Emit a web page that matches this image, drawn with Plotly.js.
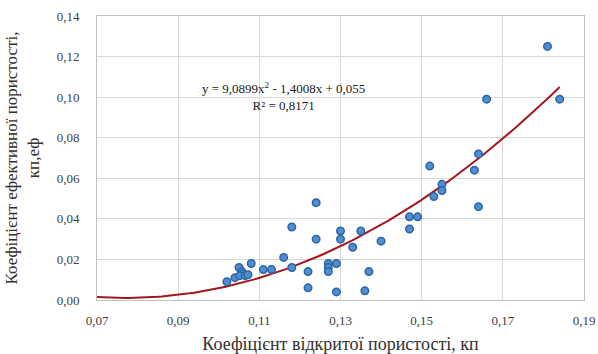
<!DOCTYPE html>
<html>
<head>
<meta charset="utf-8">
<script src="https://cdn.plot.ly/plotly-3.0.1.min.js"></script>
<style>html,body{margin:0;padding:0;background:#fff;}#chart{width:598px;height:354px;}</style>
</head>
<body>
<div id="chart"></div>
<script>
// Open porosity (x) and effective porosity (y)
var xOpen = [0.181, 0.184, 0.166, 0.164, 0.163, 0.152, 0.155, 0.155, 0.153, 0.164,
             0.147, 0.149, 0.147, 0.124, 0.118, 0.124, 0.130, 0.130, 0.135, 0.133,
             0.140, 0.116, 0.118, 0.111, 0.113, 0.108, 0.122, 0.127, 0.127, 0.127,
             0.129, 0.137, 0.122, 0.129, 0.136, 0.102, 0.104, 0.105, 0.1057, 0.106,
             0.1052, 0.1065, 0.1072];
var yEff  = [0.125, 0.099, 0.099, 0.072, 0.064, 0.066, 0.057, 0.054, 0.051, 0.046,
             0.041, 0.041, 0.035, 0.048, 0.036, 0.030, 0.034, 0.030, 0.034, 0.026,
             0.029, 0.021, 0.016, 0.015, 0.015, 0.018, 0.014, 0.018, 0.016, 0.014,
             0.018, 0.014, 0.006, 0.004, 0.0045, 0.009, 0.011, 0.016, 0.014, 0.013,
             0.012, 0.012, 0.0125];
// Polynomial trendline coefficients shown on the chart: a*x^2 + b*x + c
var trendCoef = [9.0899, -1.4008, 0.055];
var trendRange = [0.07, 0.184];
var xTicks = [0.07, 0.09, 0.11, 0.13, 0.15, 0.17, 0.19];
var yTicks = [0.00, 0.02, 0.04, 0.06, 0.08, 0.10, 0.12, 0.14];

var tx = [], ty = [];
var n = 100;
for (var i = 0; i <= n; i++) {
  var x = trendRange[0] + (trendRange[1] - trendRange[0]) * i / n;
  tx.push(x);
  ty.push(trendCoef[0] * x * x + trendCoef[1] * x + trendCoef[2]);
}

var FAM = 'Liberation Serif';

var data = [
  {x: tx, y: ty, type: 'scatter', mode: 'lines',
   line: {color: '#a3161c', width: 2}, hoverinfo: 'skip'},
  {x: xOpen, y: yEff, type: 'scatter', mode: 'markers',
   marker: {color: '#4f8fcf', size: 7.5, line: {color: '#2c64a4', width: 1.5}}}
];

var layout = {
  width: 598, height: 354,
  margin: {l: 97, r: 14, t: 16, b: 54},
  paper_bgcolor: '#fff', plot_bgcolor: '#fff',
  showlegend: false,
  separators: ',.',
  xaxis: {
    range: [0.07, 0.19], tickvals: xTicks, tickformat: '.2f',
    showgrid: true, gridcolor: '#d9d9d9', gridwidth: 1,
    showline: true, linecolor: '#bfbfbf', linewidth: 1, mirror: true,
    zeroline: false, ticks: '', ticklen: 0, ticklabelstandoff: 8,
    automargin: false,
    tickfont: {family: FAM, size: 13, color: '#404040'},
    title: {text: 'Коефіцієнт відкритої пористості, кп',
            font: {family: FAM, size: 18, color: '#303030'}, standoff: 13}
  },
  yaxis: {
    range: [0, 0.14], tickvals: yTicks, tickformat: '.2f',
    showgrid: true, gridcolor: '#d9d9d9', gridwidth: 1,
    showline: true, linecolor: '#bfbfbf', linewidth: 1, mirror: true,
    zeroline: false, ticks: '', ticklen: 0, ticklabelstandoff: 14,
    automargin: false,
    tickfont: {family: FAM, size: 13, color: '#404040'},
    title: {text: 'Коефіцієнт ефективної пористості,<br>кп,еф',
            font: {family: FAM, size: 17, color: '#303030'}, standoff: 12}
  },
  annotations: [{
    xref: 'paper', yref: 'paper',
    x: (283 - 97) / 487, y: 1 - (78 - 16) / 284,
    text: 'y = 9,0899x<sup>2</sup> - 1,4008x + 0,055<br>R² = 0,8171',
    showarrow: false, align: 'center',
    font: {family: FAM, size: 13, color: '#202020'}
  }]
};

Plotly.newPlot('chart', data, layout, {displayModeBar: false});
</script>
</body>
</html>
